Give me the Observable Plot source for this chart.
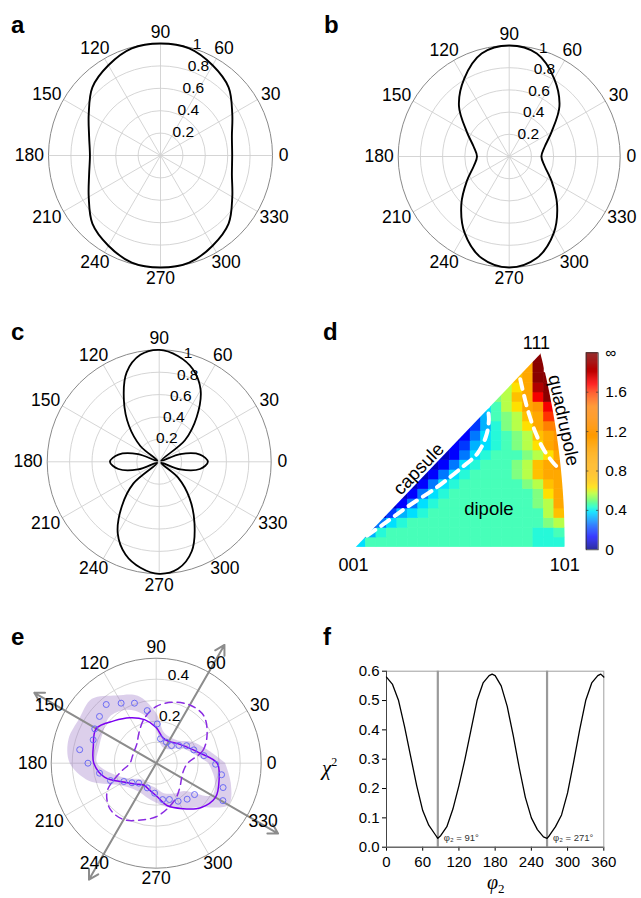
<!DOCTYPE html>
<html>
<head>
<meta charset="utf-8">
<script src="https://cdn.jsdelivr.net/npm/d3@7"></script>
<script src="https://cdn.jsdelivr.net/npm/@observablehq/plot@0.6"></script>
<style>
html,body{margin:0;padding:0;background:#fff;}
#fig{position:relative;width:641px;height:898px;overflow:hidden;font-family:"Liberation Sans",Arial,Helvetica,sans-serif;color:#000;}
.panel{position:absolute;}
.panel svg{display:block;overflow:visible;}
.letter{position:absolute;font-weight:bold;font-size:24px;line-height:1;}
.ital{position:absolute;font-family:"Liberation Serif","DejaVu Serif",serif;font-style:italic;line-height:1;white-space:nowrap;}
</style>
</head>
<body>
<div id="fig"></div>
<script>
// ---------------- DATA ----------------
const angleTicks = [0,30,60,90,120,150,180,210,240,270,300,330];
const ringsAbc = [0.2,0.4,0.6,0.8,1];
const ringLabelsAbc = [0.2,0.4,0.6,0.8,1];
const ringsE = [0.1,0.2,0.3,0.4,0.5];
const ringLabelsE = [0.2,0.4];

const theta15 = [0,15,30,45,60,75,90,105,120,135,150,165,180,195,210,225,240,255,270,285,300,315,330,345];
const theta10 = [0,10,20,30,40,50,60,70,80,90,100,110,120,130,140,150,160,170,180,190,200,210,220,230,240,250,260,270,280,290,300,310,320,330,340,350];

// panel a
const rA = [0.64,0.66,0.74,0.86,0.93,0.99,1.0,0.99,0.93,0.86,0.74,0.66,0.63,0.66,0.74,0.86,0.93,0.99,1.0,0.99,0.93,0.86,0.74,0.66];
// panel b
const rB = [0.29,0.33,0.44,0.64,0.81,0.96,1.0,0.96,0.81,0.64,0.44,0.33,0.29,0.33,0.44,0.61,0.80,0.95,1.0,0.95,0.80,0.61,0.44,0.33];
// panel c
const rC = [0.435,0.37,0.2,0.02,0.3,0.52,0.74,0.88,0.96,1.0,0.97,0.85,0.63,0.42,0.22,0.02,0.2,0.37,
            0.44,0.37,0.2,0.02,0.3,0.52,0.74,0.88,0.96,1.0,0.97,0.85,0.63,0.42,0.22,0.02,0.2,0.37];
// panel e
const eSolid  = [0.29,0.205,0.16,0.135,0.12,0.125,0.17,0.215,0.25,0.285,0.33,0.31,0.297,0.255,0.18,0.14,0.12,0.13,0.155,0.21,0.25,0.30,0.326,0.31];
const eDashed = [0.15,0.23,0.28,0.32,0.32,0.30,0.27,0.22,0.165,0.13,0.12,0.118,0.125,0.18,0.27,0.31,0.31,0.28,0.255,0.22,0.19,0.16,0.14,0.135];
const eBandLow  = [0.25,0.18,0.14,0.09,0.08,0.09,0.16,0.24,0.29,0.31,0.29,0.28,0.28,0.21,0.15,0.11,0.10,0.11,0.12,0.15,0.17,0.19,0.31,0.29];
const eBandHigh = [0.33,0.25,0.20,0.15,0.14,0.15,0.24,0.33,0.37,0.43,0.42,0.43,0.41,0.33,0.21,0.17,0.16,0.17,0.19,0.22,0.25,0.30,0.40,0.37];
const eObsAngle = [130.4,120.3,109.9,99.7,88.5,80,64,49,38,30,19.5,9,359,350,340,330.7,320.7,310.7,300,290,280,267,250,229,219,209.5,200.8,190,180,170,159.7,150.8,140.5];
const eObsR     = [0.367,0.331,0.304,0.254,0.187,0.118,0.111,0.111,0.137,0.167,0.19,0.23,0.283,0.316,0.339,0.364,0.236,0.226,0.209,0.184,0.176,0.143,0.125,0.126,0.148,0.177,0.233,0.274,0.325,0.37,0.32,0.335,0.35];
const eAxisAngles = [60,240,150,330];
const eAxisLen = [0.65,0.64,0.67,0.67];

// panel d : level grid, one entry per cell row (bottom row first): first column + level codes
const dRowStart  = [0,0,1,2,3,4,5,6,7,8,8,9,10,11,12,13,14,15,15,16];
const dRowLevels = [
  "5" + "7".repeat(16) + "666",
  "146" + "7".repeat(14) + "667",
  "0356" + "7".repeat(13) + "89",
  "02456" + "7".repeat(11) + "9b",
  "01356" + "7".repeat(9) + "89c",
  "01356" + "7".repeat(8) + "8ac",
  "01356" + "7".repeat(6) + "89bc",
  "01356" + "7".repeat(4) + "89bcc",
  "01356" + "7".repeat(3) + "89bcd",
  "01356" + "77" + "789acd",
  "012456" + "789acd",
  "01356789bcdd",
  "124689acee",
  "24789bcff",
  "579acdg",
  "89bcgi",
  "9achi",
  "bcii",
  "bci",
  "ci"
];
const dLevel = {"0":0.06,"1":0.13,"2":0.2,"3":0.27,"4":0.33,"5":0.38,"6":0.42,"7":0.45,"8":0.5,"9":0.56,
  "a":0.63,"b":0.72,"c":0.95,"d":1.2,"e":1.45,"f":1.6,"g":1.7,"h":1.85,"i":1.97};
const capsuleX = [0.023,0.056,0.102,0.162,0.208,0.241,0.258,0.264,0.261];
const capsuleY = [0.022,0.044,0.076,0.114,0.149,0.177,0.209,0.241,0.269];
const quadX = [0.326,0.334,0.343,0.357,0.373,0.393,0.403];
const quadY = [0.318,0.285,0.253,0.215,0.184,0.158,0.149];
const vertexNames = ["001","101","111"];
const cbTicks = [0,0.4,0.8,1.2,1.6,2.0];
const cbLabels = ["0","0.4","0.8","1.2","1.6","\u221e"];
const cmapDomain = [0,0.05,0.13,0.23,0.31,0.38,0.43,0.5,0.57,0.63,0.7,0.8,1.1,1.45,1.58,1.68,1.8,2.0];
const cmapRange = ["#00008a","#0000b8","#0000ff","#0050ff","#00a0ff","#00e0ff","#30ffd0","#80ff80","#c0ff40","#ffe000","#ffc400","#ffb000","#ffa000","#ff8000","#ff4000","#ff0000","#c00000","#800000"];

// panel f
const fPhi = [0,10,20,30,40,50,60,70,80,85,90,100,110,120,130,140,150,160,170,175,180,190,200,210,220,230,240,250,260,266,270,280,290,300,310,320,330,340,350,355,360];
const fChi = [0.58,0.555,0.50,0.41,0.31,0.21,0.125,0.075,0.045,0.03,0.04,0.07,0.13,0.21,0.30,0.40,0.50,0.56,0.585,0.59,0.585,0.55,0.48,0.38,0.27,0.17,0.10,0.06,0.035,0.03,0.04,0.07,0.11,0.185,0.29,0.40,0.50,0.56,0.585,0.59,0.58];
const fXTicks = [0,60,120,180,240,300,360];
const fYTicks = [0,0.1,0.2,0.3,0.4,0.5,0.6];
const fMinima = [85,266];
const fMinLabels = ["\u03c6\u2082 = 91\u00b0","\u03c6\u2082 = 271\u00b0"];

// ---------------- HELPERS ----------------
const FONT = '"Liberation Sans", Arial, Helvetica, sans-serif';
const deg = Math.PI/180;
const toX = (a,r) => r*Math.cos(a*deg);
const toY = (a,r) => r*Math.sin(a*deg);
const fig = document.getElementById("fig");
function place(node, left, top){
  const d = document.createElement("div");
  d.className = "panel"; d.style.left = left+"px"; d.style.top = top+"px";
  d.appendChild(node); fig.appendChild(d);
}
function html(cls, text, left, top, extra){
  const d = document.createElement("div");
  d.className = cls; d.innerHTML = text; d.style.left = left+"px"; d.style.top = top+"px";
  if (extra) Object.assign(d.style, extra);
  fig.appendChild(d);
}
const pts = (angles, rs) => angles.map((a,i)=>({a, r: rs[i]}));

function polarPlot(o){
  const k = o.R / o.rmax;
  const x0 = o.cx - o.left, y0 = o.cy - o.top;
  const inner = o.rings.filter(r => r < o.rmax - 1e-9);
  const marks = [
    Plot.link(angleTicks, {x1:()=>0, y1:()=>0, x2:a=>toX(a,o.rmax), y2:a=>toY(a,o.rmax), stroke:"#d0d0d0", strokeWidth:0.9}),
    Plot.dot(inner, {x:()=>0, y:()=>0, r:d=>d*k, stroke:"#d0d0d0", strokeWidth:0.9, fill:"none"}),
    Plot.dot([o.rmax], {x:()=>0, y:()=>0, r:d=>d*k, stroke:"#8a8a8a", strokeWidth:1, fill:"none"}),
    ...o.marks,
    Plot.text(angleTicks, {
      x:a=>Math.cos(a*deg)*(1.1*o.rmax + (String(a).length-1)*4/k),
      y:a=>1.1*o.rmax*Math.sin(a*deg),
      text:a=>String(a), fontSize:17.5, fill:"#000"}),
    Plot.text(o.ringLabels, {x:r=>toX(o.labelAngle,r), y:r=>toY(o.labelAngle,r), text:r=>String(r),
      textAnchor:"start", dx:o.labelDx, dy:o.labelDy, fontSize:15.5, fill:"#000"})
  ];
  const svg = Plot.plot({
    width:o.width, height:o.height, margin:0,
    x:{domain:[-x0/k,(o.width-x0)/k], axis:null},
    y:{domain:[-(o.height-y0)/k, y0/k], axis:null},
    r:{type:"identity"},
    style:{fontFamily:FONT, background:"transparent", overflow:"visible"},
    marks
  });
  place(svg, o.left, o.top);
}
const curveOpts = {x:d=>toX(d.a,d.r), y:d=>toY(d.a,d.r), curve:"catmull-rom-closed"};

// ---------------- PANELS a, b, c ----------------
polarPlot({left:0, top:0, width:320, height:300, cx:160, cy:155, R:112, rmax:1, rings:ringsAbc,
  ringLabels:ringLabelsAbc, labelAngle:77, labelDx:7, labelDy:-2,
  marks:[Plot.line(pts(theta15,rA), {...curveOpts, stroke:"#000", strokeWidth:1.9})]});
polarPlot({left:320, top:0, width:321, height:300, cx:508.7, cy:156, R:111, rmax:1, rings:ringsAbc,
  ringLabels:ringLabelsAbc, labelAngle:76, labelDx:3, labelDy:-1,
  marks:[Plot.line(pts(theta15,rB), {...curveOpts, stroke:"#000", strokeWidth:1.9})]});
polarPlot({left:0, top:300, width:320, height:300, cx:158.7, cy:461.3, R:112, rmax:1, rings:ringsAbc,
  ringLabels:ringLabelsAbc, labelAngle:72, labelDx:-10, labelDy:-2,
  marks:[Plot.line(pts(theta10,rC), {...curveOpts, stroke:"#000", strokeWidth:1.8})]});

// ---------------- PANEL e ----------------
const bandPts = theta15.concat([360]).map((a,i)=>({a, lo:eBandLow[i%24], hi:eBandHigh[i%24]}));
polarPlot({left:0, top:600, width:320, height:298, cx:155.7, cy:762.7, R:105, rmax:0.5, rings:ringsE,
  ringLabels:ringLabelsE, labelAngle:78, labelDx:-6, labelDy:-6,
  marks:[
    Plot.area(bandPts, {x1:d=>toX(d.a,d.hi), y1:d=>toY(d.a,d.hi), x2:d=>toX(d.a,d.lo), y2:d=>toY(d.a,d.lo),
      curve:"catmull-rom", fill:"rgb(150,110,195)", fillOpacity:0.33}),
    Plot.arrow(pts(eAxisAngles,eAxisLen), {x1:()=>0, y1:()=>0, x2:d=>toX(d.a,d.r), y2:d=>toY(d.a,d.r),
      stroke:"#8c8c8c", strokeWidth:2, headLength:8}),
    Plot.line(pts(theta15,eDashed), {...curveOpts, stroke:"#8a2be2", strokeWidth:1.5, strokeDasharray:"7,5"}),
    Plot.line(pts(theta15,eSolid), {...curveOpts, stroke:"#7a00f0", strokeWidth:1.5}),
    Plot.dot(pts(eObsAngle,eObsR), {x:d=>toX(d.a,d.r), y:d=>toY(d.a,d.r), r:3, stroke:"#6b6bf5", strokeWidth:1, fill:"none"})
  ]});

// ---------------- PANEL d ----------------
const colorCfg = {type:"linear", domain:cmapDomain, range:cmapRange, interpolate:"rgb", clamp:true};
const cellW = 0.41421/20, cellH = 0.366/20;
const dCells = [];
dRowLevels.forEach((row, j) => {
  [...row].forEach((ch, n) => {
    const i = dRowStart[j] + n;
    dCells.push({x1:i*cellW, x2:(i+1)*cellW, y1:j*cellH, y2:(j+1)*cellH, v:dLevel[ch]});
  });
});
// white masks outside the stereographic triangle (edge 001-111 straight, 101-111 arc)
const maskLeft = [{x:-0.03,y:-0.002},{x:0,y:0},{x:0.366,y:0.366},{x:0.366,y:0.40},{x:-0.03,y:0.40}];
const arc = d3.range(0, 0.3661, 0.005).concat([0.366]).map(y=>({x:Math.sqrt(2-y*y)-1, y}));
const maskRight = arc.concat([{x:0.366,y:0.40},{x:0.47,y:0.40},{x:0.47,y:-0.002},{x:0.41421,y:-0.002}]);
const vertexPos = [{x:0,y:0,dx:-2,dy:18},{x:0.41421,y:0,dx:0,dy:18},{x:0.366,y:0.366,dx:-4,dy:-11}];

const dPlot = Plot.plot({
  width:321, height:300, marginLeft:35, marginRight:76.7, marginTop:53.3, marginBottom:53.3,
  x:{domain:[0,0.41421], axis:null}, y:{domain:[0,0.366], axis:null},
  color:colorCfg,
  style:{fontFamily:FONT, background:"transparent", overflow:"visible"},
  marks:[
    Plot.rect(dCells, {x1:"x1", x2:"x2", y1:"y1", y2:"y2", fill:"v", stroke:"v", strokeWidth:0.6}),
    Plot.line(maskLeft, {x:"x", y:"y", fill:"white", stroke:"none", curve:"linear-closed"}),
    Plot.line(maskRight, {x:"x", y:"y", fill:"white", stroke:"none", curve:"linear-closed"}),
    Plot.line(capsuleX.map((x,i)=>({x, y:capsuleY[i]})), {x:"x", y:"y", stroke:"white", strokeWidth:4, strokeDasharray:"10,7", curve:"catmull-rom"}),
    Plot.line(quadX.map((x,i)=>({x, y:quadY[i]})), {x:"x", y:"y", stroke:"white", strokeWidth:4, strokeDasharray:"10,7", curve:"catmull-rom"}),
    Plot.text(["capsule"], {x:()=>0.125, y:()=>0.148, rotate:-46, fontSize:18.5, fill:"#000"}),
    Plot.text(["quadrupole"], {x:()=>0.412, y:()=>0.24, rotate:78, fontSize:18.5, fill:"#000"}),
    Plot.text(["dipole"], {x:()=>0.264, y:()=>0.073, fontSize:18.5, fill:"#000"}),
    ...vertexNames.map((t,i)=>Plot.text([t], {x:()=>vertexPos[i].x, y:()=>vertexPos[i].y, dx:vertexPos[i].dx, dy:vertexPos[i].dy, fontSize:18, fill:"#000"}))
  ]
});
place(dPlot, 320, 300);

// colorbar
const cbSteps = d3.range(0, 2, 0.01);
const cbPlot = Plot.plot({
  width:66, height:220, marginLeft:10.7, marginRight:43.3, marginTop:12.3, marginBottom:10.7,
  x:{domain:[0,1], axis:null}, y:{domain:[0,2], axis:null},
  color:colorCfg,
  style:{fontFamily:FONT, background:"transparent", overflow:"visible"},
  marks:[
    Plot.rect(cbSteps, {x1:()=>0, x2:()=>1, y1:d=>d, y2:d=>d+0.0105, fill:d=>d+0.005}),
    Plot.frame({stroke:"#333", strokeWidth:0.8}),
    Plot.link(cbTicks.slice(1,5), {x1:()=>0, x2:()=>0.18, y1:d=>d, y2:d=>d, stroke:"#333", strokeWidth:0.7}),
    Plot.link(cbTicks.slice(1,5), {x1:()=>0.82, x2:()=>1, y1:d=>d, y2:d=>d, stroke:"#333", strokeWidth:0.7}),
    Plot.text(cbTicks, {x:()=>1, y:d=>d, text:(d,i)=>cbLabels[i], textAnchor:"start", dx:7, fontSize:15.5, fill:"#000"})
  ]
});
place(cbPlot, 575, 340);

// ---------------- PANEL f ----------------
const fPlot = Plot.plot({
  width:321, height:258, marginLeft:66, marginRight:37.7, marginTop:30.7, marginBottom:51.3,
  x:{domain:[0,360], ticks:fXTicks, tickSize:4, tickPadding:5, tickFormat:d=>String(d), label:null},
  y:{domain:[0,0.6], ticks:fYTicks, tickSize:4, tickPadding:3, tickFormat:d=>d.toFixed(1), label:null},
  style:{fontFamily:FONT, fontSize:"15px", background:"transparent", overflow:"visible"},
  marks:[
    Plot.frame({stroke:"#a0a0a0"}),
    Plot.ruleX(fMinima, {stroke:"#9a9a9a", strokeWidth:2.2}),
    Plot.ruleX([0], {stroke:"#444"}),
    Plot.ruleY([0], {stroke:"#444"}),
    Plot.line(fPhi.map((p,i)=>({p, c:fChi[i]})), {x:"p", y:"c", stroke:"#000", strokeWidth:1.3}),
    Plot.text(fMinima, {x:d=>d, y:()=>0.032, text:(d,i)=>fMinLabels[i], textAnchor:"start", dx:6, fontSize:9.5, fill:"#333"})
  ]
});
place(fPlot, 320, 640);

// ---------------- TEXT OVERLAYS ----------------
html("letter","a",11,13); html("letter","b",324,13);
html("letter","c",11,320); html("letter","d",323,320);
html("letter","e",11,625); html("letter","f",323,625);
html("ital",'\u03c7<span style="font-style:normal;font-size:12px;vertical-align:9px">2</span>',322,756,{fontSize:"21px"});
html("ital",'\u03c6<span style="font-style:normal;font-size:13px;vertical-align:-4px">2</span>',487,872,{fontSize:"20px"});
</script>
</body>
</html>
